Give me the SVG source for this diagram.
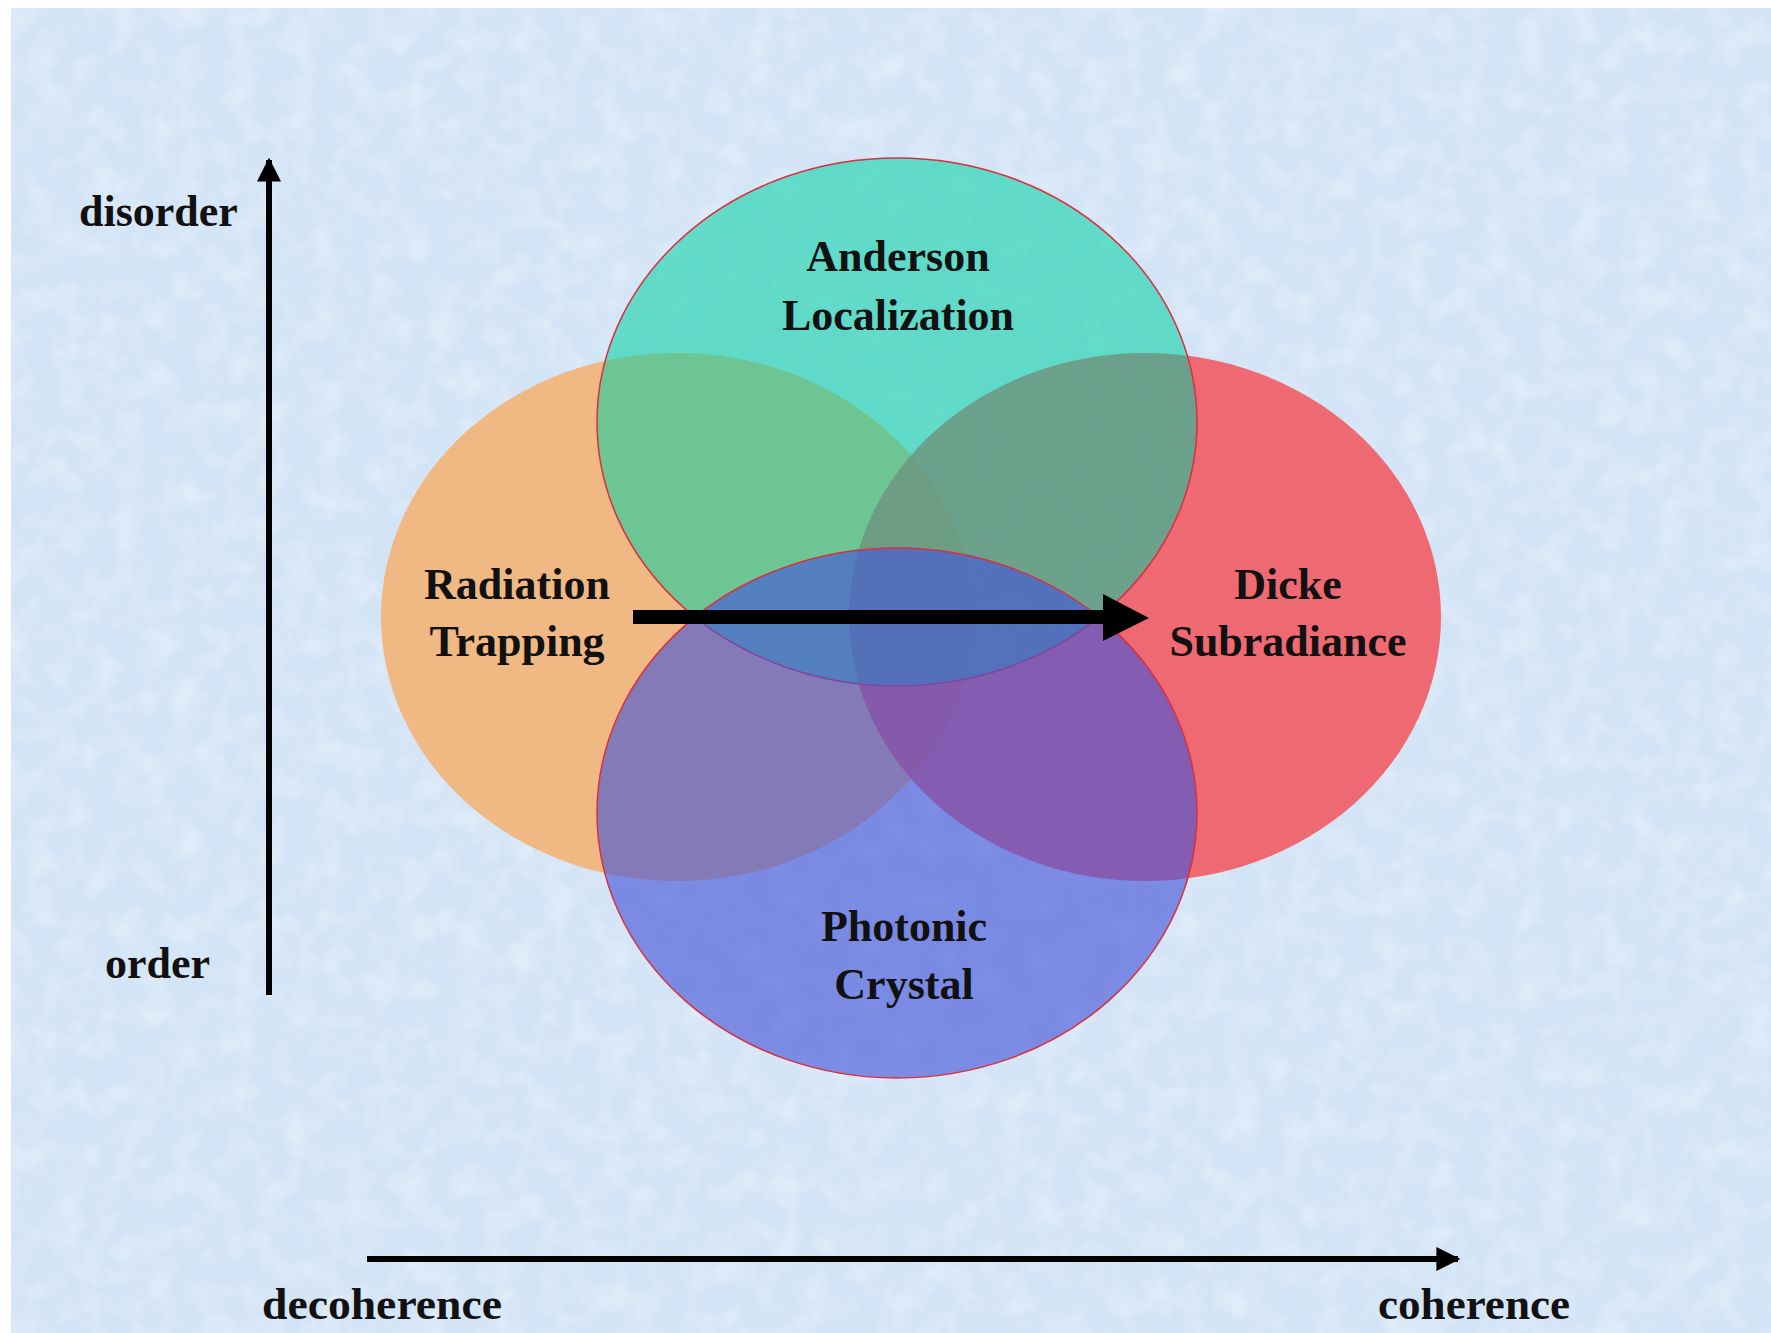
<svg xmlns="http://www.w3.org/2000/svg" width="1771" height="1333" viewBox="0 0 1771 1333">
<style>
.lbl{font-family:"Liberation Serif","Times New Roman",serif;font-weight:bold;font-size:44px;fill:#111;text-anchor:middle}
.ax{font-family:"Liberation Serif","Times New Roman",serif;font-weight:bold;font-size:44px;fill:#111}
.axis{stroke:#000;stroke-width:6;fill:none}
</style>
<defs>
<marker id="ah" viewBox="0 0 10 10" refX="9" refY="5" markerWidth="4" markerHeight="4" orient="auto" markerUnits="strokeWidth">
<path d="M0,0 L10,5 L0,10 z" fill="#000"/>
</marker>
<filter id="tex" x="0" y="0" width="100%" height="100%">
<feTurbulence type="fractalNoise" baseFrequency="0.035" numOctaves="3" seed="4" result="n"/>
<feColorMatrix in="n" type="matrix" values="0 0 0 0 1  0 0 0 0 1  0 0 0 0 1  0 0 0 -1.2 0.75" result="w"/>
<feComposite in="w" in2="SourceGraphic" operator="in"/>
</filter>
</defs>
<rect x="0" y="0" width="1771" height="1333" fill="#ffffff"/>
<rect x="11" y="8" width="1760" height="1325" fill="#d3e4f6"/>
<rect x="11" y="8" width="1760" height="1325" fill="#d3e4f6" filter="url(#tex)" opacity="0.5"/>

<g id="radiation-trapping">
<ellipse cx="677" cy="617" rx="296" ry="264" fill="#f0b882"/>
<text class="lbl" x="517" y="599">Radiation</text>
<text class="lbl" x="517" y="656">Trapping</text>
</g>
<g id="dicke-subradiance">
<ellipse cx="1145" cy="617" rx="296" ry="264" fill="#f2545a" fill-opacity="0.85"/>
</g>
<g id="anderson-localization">
<ellipse cx="897" cy="422" rx="300" ry="264" fill="#00d0a2" fill-opacity="0.55" stroke="#d83040" stroke-width="1.5"/>
<text class="lbl" x="898" y="271">Anderson</text>
<text class="lbl" x="898" y="330">Localization</text>
</g>
<g id="photonic-crystal">
<ellipse cx="897" cy="813" rx="300" ry="265" fill="#4555d8" fill-opacity="0.63" stroke="#d83040" stroke-width="1.5"/>
<text class="lbl" x="904" y="941">Photonic</text>
<text class="lbl" x="904" y="999">Crystal</text>
</g>
<g id="dicke-label">
<text class="lbl" x="1288" y="599">Dicke</text>
<text class="lbl" x="1288" y="656">Subradiance</text>
</g>

<g id="connectors">
<line x1="269" y1="995" x2="269" y2="160" class="axis" marker-end="url(#ah)"/>
<line x1="367" y1="1259" x2="1458" y2="1259" class="axis" marker-end="url(#ah)"/>
<line x1="633" y1="617" x2="1108" y2="617" stroke="#000" stroke-width="14"/>
<path d="M1103,594 L1149,618 L1103,641 z" fill="#000"/>
</g>

<g id="axis-labels">
<text class="ax" x="79" y="226">disorder</text>
<text class="ax" x="105" y="978">order</text>
<text class="ax" x="262" y="1319" textLength="240" lengthAdjust="spacingAndGlyphs">decoherence</text>
<text class="ax" x="1378" y="1319" textLength="192" lengthAdjust="spacingAndGlyphs">coherence</text>
</g>
</svg>
